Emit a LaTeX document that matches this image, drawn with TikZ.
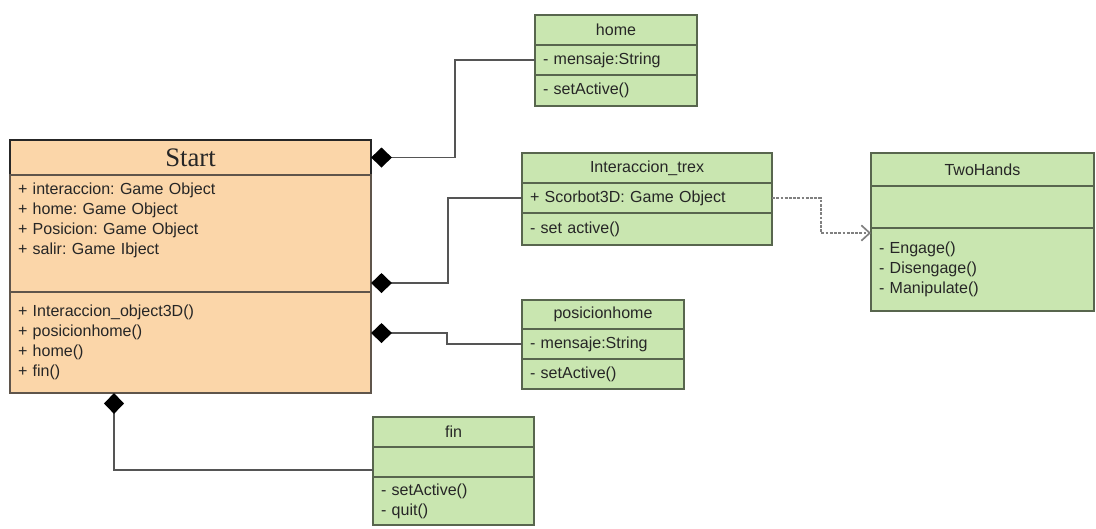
\documentclass[tikz,border=0pt]{standalone}
\usepackage{fontspec}
\setmainfont{Liberation Sans}
\newfontfamily\titlefont{Liberation Serif}
\usetikzlibrary{positioning,calc,arrows.meta}
\definecolor{startfill}{RGB}{251,214,169}
\definecolor{classfill}{RGB}{201,230,176}
\definecolor{classline}{RGB}{88,102,78}
\definecolor{startline}{RGB}{95,85,75}
\definecolor{connline}{RGB}{85,85,85}
\frenchspacing
\begin{document}
\begin{tikzpicture}[x=0.025cm,y=-0.025cm,font=\fontsize{11.4}{14.2}\selectfont,text=black!85,
  hdr/.style={draw=classline,fill=classfill,line width=0.9pt,outer sep=0pt,inner sep=0pt,anchor=north west},
  part/.style={hdr,align=left,inner xsep=0.2cm,inner ysep=0pt},
  comp/.style={draw=connline,line width=1pt,-{Diamond[length=0.52cm,width=0.5cm,color=black,fill=black]}},
  dep/.style={draw=gray,line width=1.2pt,dash pattern=on 2pt off 1pt,-{Straight Barb[length=6pt,width=11pt]}}]
\useasboundingbox (0,0) rectangle (1096,528);
% Start
\node[hdr,fill=startfill,draw=black!85,line width=1.4pt,minimum width=9.025cm,minimum height=0.875cm,font=\titlefont\fontsize{19}{21}\selectfont] (startH) at (10,140) {Start};
\node[part,fill=startfill,draw=startline,text width=8.625cm,minimum height=2.925cm,below=0pt of startH] (startA) {+ interaccion: Game Object\\+ home: Game Object\\+ Posicion: Game Object\\+ salir: Game Ibject\\[7pt]\mbox{}};
\node[part,fill=startfill,draw=startline,text width=8.625cm,minimum height=2.525cm,below=0pt of startA] (startM) {+ Interaccion\_object3D()\\+ posicionhome()\\+ home()\\+ fin()};
% home
\node[hdr,minimum width=4.05cm,minimum height=0.75cm] (homeH) at (535,15) {home};
\node[part,text width=3.65cm,minimum height=0.75cm,below=0pt of homeH] (homeA) {- mensaje:String};
\node[part,text width=3.65cm,minimum height=0.775cm,below=0pt of homeA] (homeM) {- setActive()};
% Interaccion_trex
\node[hdr,minimum width=6.25cm,minimum height=0.75cm] (interH) at (522,153) {Interaccion\_trex};
\node[part,text width=5.85cm,minimum height=0.75cm,below=0pt of interH] (interA) {+ Scorbot3D: Game Object};
\node[part,text width=5.85cm,minimum height=0.8cm,below=0pt of interA] (interM) {- set active()};
% posicionhome
\node[hdr,minimum width=4.05cm,minimum height=0.725cm] (posH) at (522,300) {posicionhome};
\node[part,text width=3.65cm,minimum height=0.75cm,below=0pt of posH] (posA) {- mensaje:String};
\node[part,text width=3.65cm,minimum height=0.75cm,below=0pt of posA] (posM) {- setActive()};
% TwoHands
\node[hdr,minimum width=5.57cm,minimum height=0.825cm] (twoH) at (871,153) {TwoHands};
\node[part,text width=5.17cm,minimum height=1.05cm,below=0pt of twoH] (twoA) {};
\node[part,text width=5.17cm,minimum height=2.075cm,below=0pt of twoA] (twoM) {- Engage()\\- Disengage()\\- Manipulate()};
% fin
\node[hdr,minimum width=4.025cm,minimum height=0.75cm] (finH) at (373,417) {fin};
\node[part,text width=3.625cm,minimum height=0.75cm,below=0pt of finH] (finA) {};
\node[part,text width=3.625cm,minimum height=1.2cm,below=0pt of finA] (finM) {- setActive()\\- quit()};
% relations
\draw[comp] (homeA.west) -- ++(-80,0) |- (startH.east);
\draw[comp] (interA.west) -- ++(-74,0) |- ($(startA.south east)+(0,-9)$);
\draw[comp] (posA.west) -- ++(-75,0) |- ($(startM.north east)+(0,41)$);
\draw[comp] ($(finA.west)+(0,8)$) -| ($(startM.south west)+(104,0)$);
\draw[dep] (interA.east) -- ++(49,0) |- ($(twoM.north west)+(0,5)$);
\end{tikzpicture}
\end{document}
